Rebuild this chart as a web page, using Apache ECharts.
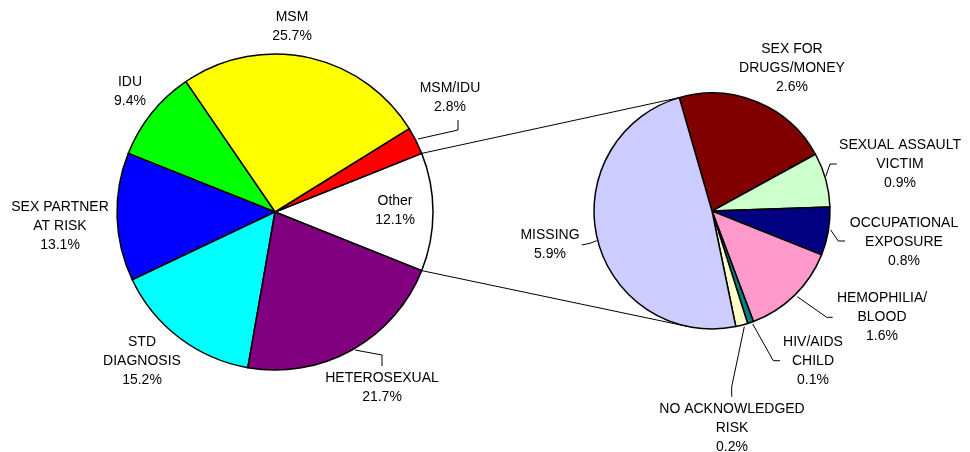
<!DOCTYPE html>
<html>
<head>
<meta charset="utf-8">
<script src="https://cdn.jsdelivr.net/npm/echarts@6/dist/echarts.min.js"></script>
<style>
  html, body { margin: 0; padding: 0; background: #fff; }
  #main { width: 970px; height: 452px; }
</style>
</head>
<body>
<div id="main"></div>
<script>
// main pie (clockwise=false, starting at the bottom edge of "Other")
var leftNames = ['Other', 'MSM/IDU', 'MSM', 'IDU', 'SEX PARTNER\nAT RISK', 'STD\nDIAGNOSIS', 'HETEROSEXUAL'];
var leftValues = [12.1, 2.8, 25.7, 9.4, 13.1, 15.2, 21.7];
var leftColors = ['#FFFFFF', '#FF0000', '#FFFF00', '#00FF00', '#0000FF', '#00FFFF', '#800080'];

// breakdown of "Other"
var rightNames = ['SEX FOR\nDRUGS/MONEY', 'SEXUAL ASSAULT\nVICTIM', 'OCCUPATIONAL\nEXPOSURE', 'HEMOPHILIA/\nBLOOD', 'HIV/AIDS\nCHILD', 'NO ACKNOWLEDGED\nRISK', 'MISSING'];
var rightValues = [2.6, 0.9, 0.8, 1.6, 0.1, 0.2, 5.9];
var rightColors = ['#800000', '#CCFFCC', '#000080', '#FF99CC', '#008080', '#FFFFCC', '#CCCCFF'];

// layout
var leftCenter = [275, 212], leftR = 158;
var rightCenter = [712, 211], rightR = 118;
var rightStart = 106.1;

var leftLabelPos = [[395, 211], [450, 97.5], [292, 26.5], [130, 91.5], [60, 226.5], [142, 361], [382, 387.5]];
var leftLines = [null, [[418, 139], [458, 130], [458, 120]], null, null, null, null, [[355, 350], [382, 355], [382, 366]]];
var rightLabelPos = [[792, 68], [900, 164], [904, 242], [882, 317], [813, 361], [732, 428], [550, 245]];
var rightLines = [
  null,
  [[825.7, 176.7], [830, 164], [836.7, 164]],
  [[830.7, 230], [838.3, 241], [845, 241]],
  [[797.3, 296.7], [826.7, 317.3], [832.7, 317.3]],
  [[752.7, 324], [773.3, 360.7], [780, 360.7]],
  [[744.3, 326.7], [731.7, 386.7], [731.7, 396.7]],
  [[596.7, 240.7], [590, 243.3], [581.7, 245]]
];

function buildData(names, values, colors, lines) {
  return names.map(function (n, i) {
    return {
      name: n,
      value: values[i],
      itemStyle: { color: colors[i] },
      labelLine: { show: !!lines[i] }
    };
  });
}

var textStyle = {
  fontFamily: 'Liberation Sans, Arial, sans-serif',
  fontSize: 14,
  lineHeight: 19,
  color: '#000',
  align: 'center'
};

function layoutFor(pos, lines) {
  return function (params) {
    var p = pos[params.dataIndex];
    var res = { x: p[0], y: p[1], align: 'center', verticalAlign: 'middle' };
    if (lines[params.dataIndex]) res.labelLinePoints = lines[params.dataIndex];
    return res;
  };
}

// connector lines between the "Other" slice and the second pie
var otherHalf = leftValues[0] / leftValues.reduce(function (a, b) { return a + b; }, 0) * 180;
function pt(c, r, deg) {
  var a = deg * Math.PI / 180;
  return [c[0] + r * Math.cos(a), c[1] - r * Math.sin(a)];
}
var topA = pt(leftCenter, leftR, otherHalf), topB = pt(rightCenter, rightR, rightStart);
var botA = pt(leftCenter, leftR, -otherHalf), botB = pt(rightCenter, rightR, 258.2);

var myChart = echarts.init(document.getElementById('main'));
var option = {
  animation: false,
  backgroundColor: '#fff',
  series: [
    {
      type: 'pie',
      center: leftCenter,
      radius: leftR,
      startAngle: -otherHalf,
      clockwise: false,
      avoidLabelOverlap: false,
      itemStyle: { borderColor: '#000', borderWidth: 1.5 },
      label: Object.assign({ show: true, position: 'outside', formatter: '{b}\n{c}%' }, textStyle),
      labelLine: { show: true, lineStyle: { color: '#000', width: 1 } },
      labelLayout: layoutFor(leftLabelPos, leftLines),
      emphasis: { disabled: true },
      data: buildData(leftNames, leftValues, leftColors, leftLines)
    },
    {
      type: 'pie',
      center: rightCenter,
      radius: rightR,
      startAngle: rightStart,
      clockwise: true,
      avoidLabelOverlap: false,
      itemStyle: { borderColor: '#000', borderWidth: 1.5 },
      label: Object.assign({ show: true, position: 'outside', formatter: '{b}\n{c}%' }, textStyle),
      labelLine: { show: true, lineStyle: { color: '#000', width: 1 } },
      labelLayout: layoutFor(rightLabelPos, rightLines),
      emphasis: { disabled: true },
      data: buildData(rightNames, rightValues, rightColors, rightLines)
    }
  ],
  graphic: [
    { type: 'line', shape: { x1: topA[0], y1: topA[1], x2: topB[0], y2: topB[1] }, style: { stroke: '#000', lineWidth: 1 }, z: 10 },
    { type: 'line', shape: { x1: botA[0], y1: botA[1], x2: botB[0], y2: botB[1] }, style: { stroke: '#000', lineWidth: 1 }, z: 10 }
  ]
};
myChart.setOption(option);
</script>
</body>
</html>
